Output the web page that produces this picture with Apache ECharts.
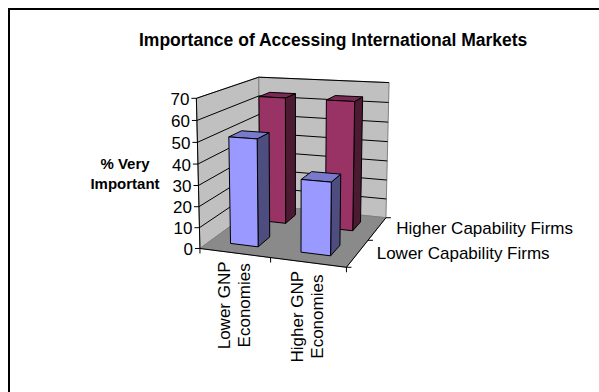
<!DOCTYPE html>
<html>
<head>
<meta charset="utf-8">
<script src="https://cdn.jsdelivr.net/npm/echarts@6/dist/echarts.min.js"></script>
<style>
  html, body { margin: 0; padding: 0; background: #fff; }
  #chart { width: 599px; height: 392px; }
</style>
</head>
<body>
<div id="chart"></div>
<script>
// ---- data ----
const categories = ['Lower GNP Economies', 'Higher GNP Economies'];
const categoryLabels = ['Lower GNP\nEconomies', 'Higher GNP\nEconomies'];
const seriesNames = ['Lower Capability Firms', 'Higher Capability Firms'];
const lowerCapability = [51, 34];
const higherCapability = [64, 64];
const valueTicks = [0, 10, 20, 30, 40, 50, 60, 70];
const chartTitle = 'Importance of Accessing International Markets';
const axisTitle = '% Very\nImportant';

// ---- 3-D view ----
const FONT = '"Liberation Sans", Arial, sans-serif';
// corners of the plot box as (u across categories, v up the value axis, w back through the rows) -> screen
const boxCorners = [
  [0, 0, 0, 200.5, 248.3],
  [0, 1, 0, 196.7, 97.5],
  [1, 0, 0, 345.5, 268.3],
  [1, 0, 1, 386.5, 216.3],
  [1, 1, 1, 389.3, 83.2],
  [0, 1, 1, 258.3, 77.3],
  [0, 0, 1, 259.6, 205.4]
];
const CX = 290, CY = 170, SC = 100;
const BAR_FRACTION = 0.4;   // bar width as a share of the category band
const ROW_GAP = 0.3;        // empty share on each side of a row

function solveLinear(A, b) {
  const n = b.length;
  const M = A.map((row, i) => row.concat([b[i]]));
  for (let c = 0; c < n; c++) {
    let p = c;
    for (let r = c + 1; r < n; r++) if (Math.abs(M[r][c]) > Math.abs(M[p][c])) p = r;
    const t = M[c]; M[c] = M[p]; M[p] = t;
    for (let r = 0; r < n; r++) {
      if (r === c) continue;
      const f = M[r][c] / M[c][c];
      for (let k = c; k <= n; k++) M[r][k] -= f * M[c][k];
    }
  }
  return M.map((row, i) => row[n] / row[i]);
}

// least-squares perspective camera through the box corners
function fitProjection(corners) {
  const A = [], b = [];
  corners.forEach(([X, Y, Z, sx, sy]) => {
    const x = (sx - CX) / SC, y = (sy - CY) / SC;
    A.push([X, Y, Z, 1, 0, 0, 0, 0, -x * X, -x * Y, -x * Z]); b.push(x);
    A.push([0, 0, 0, 0, X, Y, Z, 1, -y * X, -y * Y, -y * Z]); b.push(y);
  });
  const n = 11, N = [], r = [];
  for (let i = 0; i < n; i++) {
    N.push(new Array(n).fill(0)); r.push(0);
    for (let k = 0; k < A.length; k++) {
      r[i] += A[k][i] * b[k];
      for (let j = 0; j < n; j++) N[i][j] += A[k][i] * A[k][j];
    }
  }
  return solveLinear(N, r);
}

const P = fitProjection(boxCorners);
function project(u, v, w) {
  const d = P[8] * u + P[9] * v + P[10] * w + 1;
  return [
    (P[0] * u + P[1] * v + P[2] * w + P[3]) / d * SC + CX,
    (P[4] * u + P[5] * v + P[6] * w + P[7]) / d * SC + CY
  ];
}
function poly(pts, style, z2) {
  return { type: 'polygon', shape: { points: pts.map(p => project(p[0], p[1], p[2])) }, style: style, z2: z2 || 0 };
}
function seg(a, b, style, z2) {
  return { type: 'line', shape: { x1: a[0], y1: a[1], x2: b[0], y2: b[1] }, style: style, z2: z2 || 0 };
}

// helpers turning grid pixels from the axes into box fractions
function toU(cs, x) { return (x - cs.x) / cs.width; }
function toV(cs, y) { return (cs.y + cs.height - y) / cs.height; }

const measureCtx = document.createElement('canvas').getContext('2d');
function textWidth(str, font) { measureCtx.font = font; return measureCtx.measureText(str).width; }

// walls, floor, gridlines and axis furniture
function renderFrame(params, api) {
  const cs = params.coordSys;
  const kids = [];
  const wallStyle = { fill: '#c0c0c0', stroke: '#808080', lineWidth: 1 };
  kids.push(poly([[0, 0, 0], [0, 0, 1], [0, 1, 1], [0, 1, 0]], wallStyle));
  kids.push(poly([[0, 0, 1], [1, 0, 1], [1, 1, 1], [0, 1, 1]], wallStyle));
  kids.push(poly([[0, 0, 0], [1, 0, 0], [1, 0, 1], [0, 0, 1]], { fill: '#8a8a8a', stroke: '#808080', lineWidth: 1 }));
  const grid = { stroke: '#000', lineWidth: 1 };
  const labelFont = '17px ' + FONT;
  valueTicks.forEach(t => {
    const v = toV(cs, api.coord([0, t])[1]);
    const a = project(0, v, 0), b = project(0, v, 1), c = project(1, v, 1);
    if (t > 0) { kids.push(seg(a, b, grid, 1)); kids.push(seg(b, c, grid, 1)); }
    kids.push(seg(a, [a[0] - 5, a[1]], grid, 2));
    kids.push({ type: 'text', z2: 3, style: { text: String(t), x: a[0] - 7, y: a[1] + 1, align: 'right', verticalAlign: 'middle', font: labelFont, fill: '#000' } });
  });
  // value axis edge
  kids.push(seg(project(0, 0, 0), project(0, 1, 0), { stroke: '#000', lineWidth: 1 }, 2));
  // category axis along the front of the floor
  kids.push(seg(project(0, 0, 0), project(1, 0, 0), { stroke: '#000', lineWidth: 1 }, 2));
  [0, 0.5, 1].forEach(u => { const p = project(u, 0, 0); kids.push(seg(p, [p[0], p[1] + 5], grid, 2)); });
  categoryLabels.forEach((lab, i) => {
    const u = toU(cs, api.coord([i, 0])[0]);
    const p = project(u, 0, 0);
    const len = Math.max.apply(null, lab.split('\n').map(s => textWidth(s, labelFont)));
    kids.push({
      type: 'text', z2: 3, x: p[0], y: p[1] + 8.5 + len / 2, rotation: Math.PI / 2,
      style: { text: lab, x: 0, y: 0, align: 'center', verticalAlign: 'middle', lineHeight: 20, font: labelFont, fill: '#000' }
    });
  });
  // depth axis along the right of the floor
  kids.push(seg(project(1, 0, 0), project(1, 0, 1), { stroke: '#000', lineWidth: 1 }, 2));
  [0, 0.5, 1].forEach(w => { const p = project(1, 0, w); kids.push(seg(p, [p[0] + 5, p[1]], grid, 2)); });
  seriesNames.forEach((name, j) => {
    const p = project(1, 0, (j + 0.5) / seriesNames.length);
    kids.push({ type: 'text', z2: 3, style: { text: name, x: p[0] + 19, y: p[1], align: 'left', verticalAlign: 'middle', font: labelFont, fill: '#000' } });
  });
  return { type: 'group', children: kids };
}

// one 3-D column per data item, the row fixed by the series
function barRenderer(row, colors) {
  return function (params, api) {
    const cs = params.coordSys;
    const cat = api.value(0), val = api.value(1);
    const base = api.coord([cat, 0]), top = api.coord([cat, val]);
    const half = api.size([1, 0])[0] * BAR_FRACTION / 2;
    const u0 = toU(cs, base[0] - half), u1 = toU(cs, base[0] + half);
    const v1 = toV(cs, top[1]);
    const rows = seriesNames.length;
    const w0 = (row + ROW_GAP) / rows, w1 = (row + 1 - ROW_GAP) / rows;
    const edge = { stroke: '#000', lineWidth: 1, lineJoin: 'round' };
    return {
      type: 'group',
      children: [
        poly([[u1, 0, w0], [u1, 0, w1], [u1, v1, w1], [u1, v1, w0]], Object.assign({ fill: colors.side }, edge)),
        poly([[u0, v1, w0], [u1, v1, w0], [u1, v1, w1], [u0, v1, w1]], Object.assign({ fill: colors.top }, edge)),
        poly([[u0, 0, w0], [u1, 0, w0], [u1, v1, w0], [u0, v1, w0]], Object.assign({ fill: colors.front }, edge))
      ]
    };
  };
}

const chart = echarts.init(document.getElementById('chart'), null, { renderer: 'svg' });
const titleFont = 'bold 17.5px ' + FONT;
chart.setOption({
  animation: false,
  backgroundColor: '#fff',
  title: {
    text: chartTitle,
    left: Math.round(333 - textWidth(chartTitle, titleFont) / 2),
    top: 30,
    padding: 0,
    textStyle: { fontFamily: FONT, fontSize: 17.5, fontWeight: 'bold', color: '#000', lineHeight: 20 }
  },
  graphic: [
    { type: 'rect', shape: { x: 9, y: 9, width: 640, height: 440 }, style: { fill: 'none', stroke: '#000', lineWidth: 2 }, silent: true },
    { type: 'text', style: { text: axisTitle, x: 125, y: 173.5, align: 'center', verticalAlign: 'middle', lineHeight: 20, font: 'bold 15px ' + FONT, fill: '#000' } }
  ],
  grid: { left: 200, top: 97, width: 146, height: 151 },
  xAxis: { type: 'category', data: categories, show: false },
  yAxis: { type: 'value', min: 0, max: 70, interval: 10, show: false },
  series: [
    { type: 'custom', name: 'frame', z: 1, data: [[0, 0]], renderItem: renderFrame, silent: true },
    {
      type: 'custom', name: seriesNames[1], z: 2, encode: { x: 0, y: 1 },
      data: higherCapability.map((v, i) => [i, v]),
      renderItem: barRenderer(1, { front: '#993366', top: '#7a2952', side: '#4d1a33' })
    },
    {
      type: 'custom', name: seriesNames[0], z: 3, encode: { x: 0, y: 1 },
      data: lowerCapability.map((v, i) => [i, v]),
      renderItem: barRenderer(0, { front: '#9999ff', top: '#7a7acc', side: '#4d4d80' })
    }
  ]
});
</script>
</body>
</html>
